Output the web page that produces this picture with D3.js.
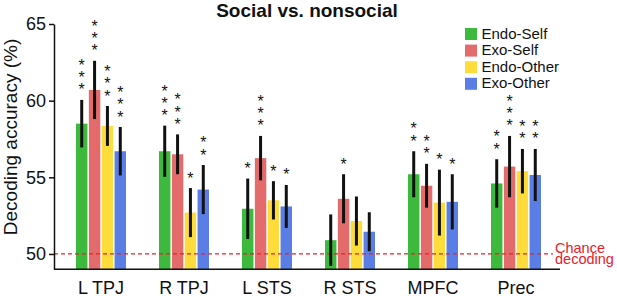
<!DOCTYPE html>
<html>
<head>
<meta charset="utf-8">
<script src="https://cdn.jsdelivr.net/npm/d3@7"></script>
<style>
  html, body { margin: 0; padding: 0; background: #fff; }
  svg { display: block; font-family: Helvetica, Arial, "Liberation Sans", sans-serif; }
</style>
</head>
<body>
<div id="chart"></div>
<script>
var regions    = ["L TPJ", "R TPJ", "L STS", "R STS", "MPFC", "Prec"];
var conditions = ["Endo-Self", "Exo-Self", "Endo-Other", "Exo-Other"];
var yTicks     = [50, 55, 60, 65];

var endoSelf      = [58.5, 56.7, 52.95, 50.9, 55.2, 54.6];
var exoSelf       = [60.7, 56.5, 56.25, 53.6, 54.45, 55.7];
var endoOther     = [58.35, 52.7, 53.5, 52.15, 53.35, 55.4];
var exoOther      = [56.7, 54.2, 53.1, 51.45, 53.4, 55.15];

var endoSelfErr   = [1.55, 1.67, 1.97, 1.68, 1.5, 1.58];
var exoSelfErr    = [1.9, 1.3, 1.45, 1.6, 1.43, 2.0];
var endoOtherErr  = [1.3, 1.6, 1.25, 1.6, 2.15, 1.45];
var exoOtherErr   = [1.58, 1.6, 1.4, 1.27, 1.8, 1.7];

var endoSelfStars  = [3, 3, 1, 0, 2, 2];
var exoSelfStars   = [3, 3, 3, 1, 2, 3];
var endoOtherStars = [3, 1, 1, 0, 1, 2];
var exoOtherStars  = [3, 2, 1, 0, 1, 2];

var chanceLevel = 50;

(function () {
    var W = 617, H = 297;
    var COLORS = ["#3dba3d", "#e36b6b", "#fddc3c", "#5a7ee6"];

    var means = [endoSelf, exoSelf, endoOther, exoOther];
    var errs  = [endoSelfErr, exoSelfErr, endoOtherErr, exoOtherErr];
    var stars = [endoSelfStars, exoSelfStars, endoOtherStars, exoOtherStars];

    var rows = [];
    regions.forEach(function (r, i) {
        conditions.forEach(function (c, j) {
            rows.push({ region: r, cond: c, ci: j,
                        mean: means[j][i], err: errs[j][i], stars: stars[j][i] });
        });
    });

    var svg = d3.select("#chart").append("svg")
        .attr("width", W).attr("height", H);

    var axisX0 = 54, axisX1 = 560;

    var y = d3.scaleLinear().domain([49, 65]).range([269.3, 24]);
    var x = d3.scaleBand().domain(regions).range([59.5, 557.5]);
    var xi = d3.scaleBand().domain(conditions).range([0, 50]).paddingInner(0.11);

    function barX(d) { return x(d.region) + (x.bandwidth() - 50) / 2 + xi(d.cond); }

    // bars
    svg.append("g").selectAll("rect")
        .data(rows).enter().append("rect")
        .attr("x", barX)
        .attr("width", xi.bandwidth())
        .attr("y", function (d) { return y(d.mean); })
        .attr("height", function (d) { return y(49) - y(d.mean); })
        .attr("fill", function (d) { return COLORS[d.ci]; });

    // chance line
    svg.append("line")
        .attr("x1", axisX0).attr("x2", 553)
        .attr("y1", y(chanceLevel)).attr("y2", y(chanceLevel))
        .attr("stroke", "#e8202a").attr("stroke-width", 1.3)
        .attr("stroke-dasharray", "4 3");

    // error bars
    svg.append("g").selectAll("line")
        .data(rows).enter().append("line")
        .attr("x1", function (d) { return barX(d) + xi.bandwidth() / 2; })
        .attr("x2", function (d) { return barX(d) + xi.bandwidth() / 2; })
        .attr("y1", function (d) { return y(d.mean + d.err); })
        .attr("y2", function (d) { return y(d.mean - d.err); })
        .attr("stroke", "#111").attr("stroke-width", 3);

    // significance stars, one stacked text per bar
    var starG = svg.append("g");
    rows.forEach(function (d) {
        if (!d.stars) return;
        var t = starG.append("text")
            .attr("text-anchor", "middle")
            .style("font-size", "16px")
            .attr("fill", "#111");
        for (var k = 0; k < d.stars; k++) {
            t.append("tspan")
                .attr("x", barX(d) + xi.bandwidth() / 2)
                .attr("y", y(d.mean + d.err) - 4.5 - 12.3 * (d.stars - 1 - k))
                .text("*");
        }
    });

    // axes
    var yAxis = svg.append("g")
        .attr("transform", "translate(" + axisX0 + ",0)")
        .call(d3.axisLeft(y).tickValues(yTicks).tickSize(5).tickSizeOuter(0).tickPadding(3));
    yAxis.selectAll("text").style("font-size", "18px").style("fill", "#111")
        .style("font-family", "Helvetica, Arial, 'Liberation Sans', sans-serif");
    yAxis.selectAll("path, line").style("stroke", "#111").style("stroke-width", 1.5);

    svg.append("line")
        .attr("x1", axisX0).attr("x2", axisX1)
        .attr("y1", y(49)).attr("y2", y(49))
        .attr("stroke", "#111").attr("stroke-width", 1.5);

    svg.append("g").selectAll("text")
        .data(regions).enter().append("text")
        .attr("x", function (r) { return x(r) + x.bandwidth() / 2; })
        .attr("y", 294)
        .attr("text-anchor", "middle")
        .style("font-size", "18px")
        .attr("fill", "#111")
        .text(function (r) { return r; });

    // axis label
    svg.append("text")
        .attr("transform", "rotate(-90)")
        .attr("x", -137).attr("y", 17)
        .attr("text-anchor", "middle")
        .style("font-size", "19px")
        .attr("fill", "#111")
        .text("Decoding accuracy (%)");

    // title
    svg.append("text")
        .attr("x", 307).attr("y", 16.5)
        .attr("text-anchor", "middle")
        .style("font-size", "19px").style("font-weight", "bold")
        .attr("fill", "#111")
        .text("Social vs. nonsocial");

    // chance label
    var ch = svg.append("text")
        .attr("fill", "#e8202a").style("font-size", "14.5px");
    ch.append("tspan").attr("x", 555).attr("y", 253.3).text("Chance");
    ch.append("tspan").attr("x", 555).attr("y", 264).text("decoding");

    // legend
    var legend = svg.append("g").attr("transform", "translate(465,28)");
    conditions.forEach(function (c, i) {
        var g = legend.append("g").attr("transform", "translate(0," + (i * 16.6) + ")");
        g.append("rect").attr("width", 12).attr("height", 12).attr("fill", COLORS[i]);
        g.append("text").attr("x", 16.5).attr("y", 10.5)
            .style("font-size", "15px").attr("fill", "#111").text(c);
    });
}());
</script>
</body>
</html>
